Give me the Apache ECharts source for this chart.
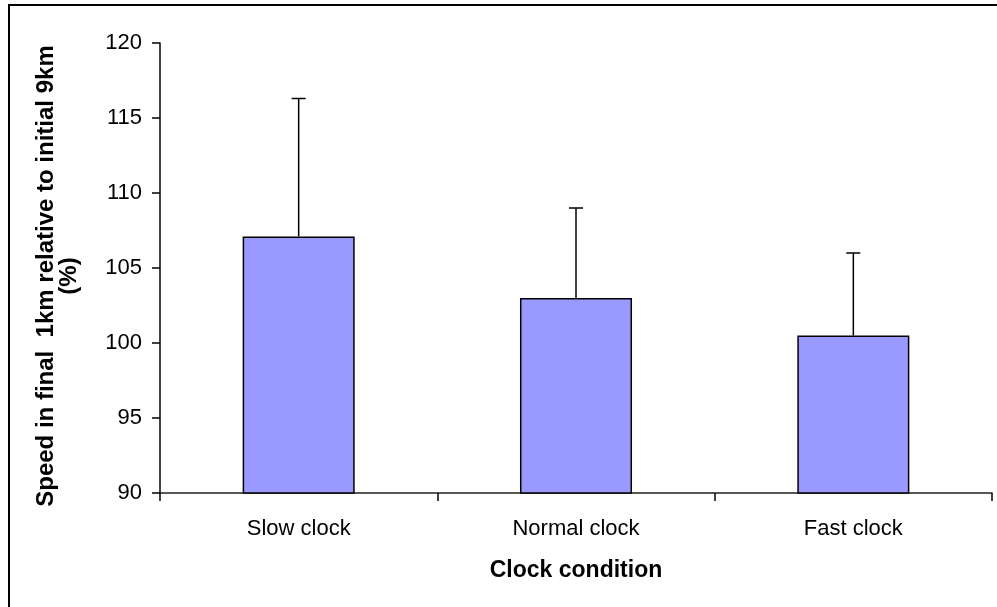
<!DOCTYPE html>
<html>
<head>
<meta charset="utf-8">
<script src="https://cdn.jsdelivr.net/npm/echarts@6/dist/echarts.min.js"></script>
<style>
html,body{margin:0;padding:0;background:#fff;}
#chart{width:997px;height:607px;}
</style>
</head>
<body>
<div id="chart"></div>
<script>
const categories = ['Slow clock', 'Normal clock', 'Fast clock'];
const meanValues = [107.1, 103.0, 100.5];
const errorUpper = [116.3, 109.0, 106.0];
const yTicks = [90, 95, 100, 105, 110, 115, 120];

const FONT = '"Liberation Sans", Arial, sans-serif';
const chart = echarts.init(document.getElementById('chart'));

chart.setOption({
  animation: false,
  backgroundColor: '#ffffff',
  graphic: [{
    type: 'rect',
    silent: true,
    shape: { x: 9, y: 5, width: 1200, height: 800 },
    style: { fill: 'none', stroke: '#000', lineWidth: 2 }
  }],
  grid: { left: 160, right: 5, top: 43, bottom: 114, containLabel: false },
  xAxis: {
    type: 'category',
    data: categories,
    boundaryGap: true,
    name: 'Clock condition',
    nameLocation: 'middle',
    nameGap: 66,
    nameTextStyle: { fontFamily: FONT, fontSize: 23, fontWeight: 'bold', color: '#000' },
    axisLine: { lineStyle: { color: '#222', width: 1.5 } },
    axisTick: { show: true, length: 8, inside: false, lineStyle: { color: '#000', width: 1.5 } },
    axisLabel: { fontFamily: FONT, fontSize: 22, color: '#000', margin: 25 },
    splitLine: { show: false }
  },
  yAxis: {
    type: 'value',
    min: yTicks[0],
    max: yTicks[yTicks.length - 1],
    interval: yTicks[1] - yTicks[0],
    name: 'Speed in final  1km relative to initial 9km\n(%)',
    nameLocation: 'middle',
    nameRotate: 90,
    nameGap: 79,
    nameTextStyle: { fontFamily: FONT, fontSize: 24, fontWeight: 'bold', color: '#000', lineHeight: 23, padding: [0, 16, 0, 0] },
    axisLine: { show: true, lineStyle: { color: '#000', width: 1.5 } },
    axisTick: { show: true, length: 8, inside: false, lineStyle: { color: '#000', width: 1.5 } },
    axisLabel: { fontFamily: FONT, fontSize: 22, color: '#000', margin: 18 },
    splitLine: { show: false }
  },
  series: [
    {
      type: 'bar',
      data: meanValues,
      barWidth: '40.4%',
      itemStyle: { color: '#9999FF', borderColor: '#000', borderWidth: 1.5 },
      z: 2
    },
    {
      type: 'custom',
      z: 3,
      data: meanValues.map((v, i) => [i, v, errorUpper[i]]),
      renderItem: function (params, api) {
        const base = api.coord([api.value(0), api.value(1)]);
        const top = api.coord([api.value(0), api.value(2)]);
        const half = 7;
        return {
          type: 'group',
          children: [
            { type: 'line', shape: { x1: base[0], y1: base[1], x2: top[0], y2: top[1] },
              style: { stroke: '#000', lineWidth: 1.5 } },
            { type: 'line', shape: { x1: top[0] - half, y1: top[1], x2: top[0] + half, y2: top[1] },
              style: { stroke: '#000', lineWidth: 1.5 } }
          ]
        };
      }
    }
  ]
});
</script>
</body>
</html>
